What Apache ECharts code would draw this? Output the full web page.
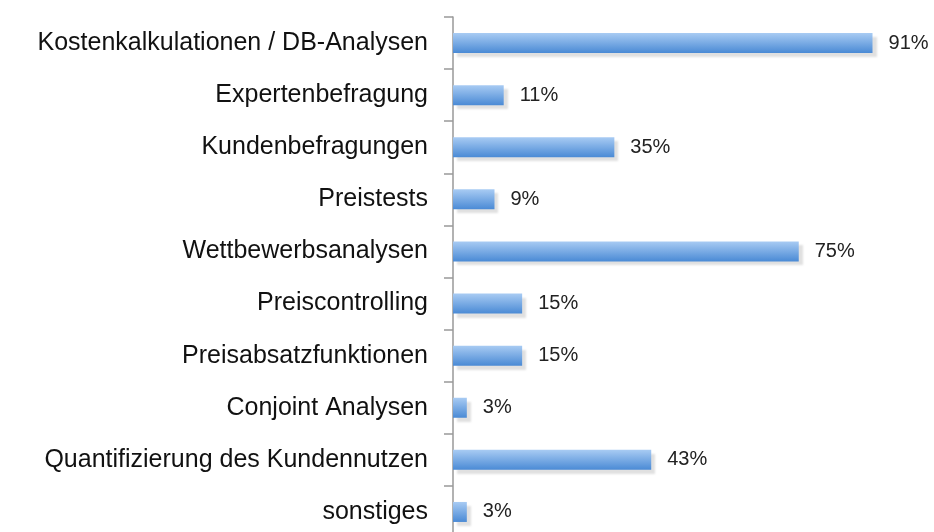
<!DOCTYPE html>
<html>
<head>
<meta charset="utf-8">
<script src="https://cdn.jsdelivr.net/npm/echarts@6/dist/echarts.min.js"></script>
<style>
  html, body { margin: 0; padding: 0; background: #fff; }
  #chart { width: 934px; height: 532px; }
</style>
</head>
<body>
<div id="chart"></div>
<script>
const categories = [
  'Kostenkalkulationen / DB-Analysen',
  'Expertenbefragung',
  'Kundenbefragungen',
  'Preistests',
  'Wettbewerbsanalysen',
  'Preiscontrolling',
  'Preisabsatzfunktionen',
  'Conjoint Analysen',
  'Quantifizierung des Kundennutzen',
  'sonstiges'
]
const values = [91, 11, 35, 9, 75, 15, 15, 3, 43, 3]

const chart = echarts.init(document.getElementById('chart'))
chart.setOption({
  animation: false,
  grid: {
    left: 453,
    width: 461,
    top: 17,
    height: 521,
    containLabel: false,
    outerBoundsMode: 'none'
  },
  xAxis: {
    type: 'value',
    min: 0,
    max: 100,
    show: false
  },
  yAxis: {
    type: 'category',
    inverse: true,
    data: categories,
    axisLine: { show: true, lineStyle: { color: '#999', width: 1.5 } },
    axisTick: { show: true, length: 9, lineStyle: { color: '#999', width: 1.5 } },
    axisLabel: {
      margin: 25,
      padding: [4, 0, 0, 0],
      fontFamily: 'Liberation Sans, Arial, sans-serif',
      fontSize: 25,
      color: '#111'
    }
  },
  series: [
    {
      type: 'bar',
      data: values,
      barWidth: 20,
      itemStyle: {
        color: new echarts.graphic.LinearGradient(0, 0, 0, 1, [
          { offset: 0, color: '#a8cbf3' },
          { offset: 1, color: '#4a8ad5' }
        ]),
        shadowColor: 'rgba(0,0,0,0.12)',
        shadowOffsetX: 4,
        shadowOffsetY: 4,
        shadowBlur: 2
      },
      label: {
        show: true,
        position: 'right',
        distance: 16,
        padding: [3, 0, 0, 0],
        formatter: '{c}%',
        fontFamily: 'Liberation Sans, Arial, sans-serif',
        fontSize: 20,
        color: '#222'
      }
    }
  ]
})
</script>
</body>
</html>
